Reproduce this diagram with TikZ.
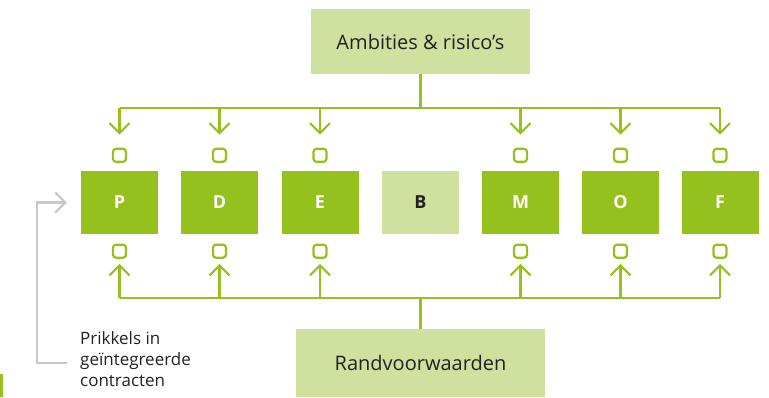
\documentclass[tikz,border=0pt]{standalone}
\usepackage{fontspec}
\setmainfont{Open Sans}
\usetikzlibrary{arrows.meta,positioning,calc}
\definecolor{planGreen}{RGB}{149,193,31}
\definecolor{planLight}{RGB}{208,224,158}
\definecolor{planText}{RGB}{34,34,34}
\definecolor{planGray}{RGB}{200,200,200}

\begin{document}
\begin{tikzpicture}[x=1pt, y=-1pt,
    phase/.style={fill=planGreen, minimum width=77pt, minimum height=63pt, inner sep=0pt, text=white, font=\bfseries\fontsize{18}{20}\selectfont},
    phaseB/.style={phase, fill=planLight, text=planText},
    frame/.style={fill=planLight, inner sep=0pt, text=planText, font=\fontsize{20}{24}\selectfont},
    port/.style={draw=planGreen, line width=2.2pt, rounded corners=3pt, minimum size=13pt, inner sep=0pt},
    link/.style={draw=planGreen, line width=2.2pt},
    feed/.style={link, -{Straight Barb[length=10pt, width=20pt, line width=2.2pt]}},
    back/.style={draw=planGray, line width=2.2pt, -{Straight Barb[length=10pt, width=20pt, line width=2.2pt]}}]
    \useasboundingbox (0,0) rectangle (769,397);

    \node[frame, minimum width=219pt, minimum height=65pt] (amb) at (420.5,41.5) {Ambities \& risico’s};
    \node[frame, minimum width=249pt, minimum height=68pt] (rand) at (420.5,363) {Randvoorwaarden};

    % Phases
    \node[phase] (p) at (119.5,202.5) {P};
    \node[phase] (d) at (219.5,202.5) {D};
    \node[phase] (e) at (320,202.5) {E};
    \node[phaseB] (b) at (420.5,202.5) {B};
    \node[phase] (m) at (520.5,202.5) {M};
    \node[phase] (o) at (620.5,202.5) {O};
    \node[phase] (f) at (720,202.5) {F};

    \coordinate (topbus) at (0,108);
    \coordinate (lowbus) at (0,298);
    \draw[link] (amb.south) -- (amb |- topbus);
    \draw[link] (rand.north) -- (rand |- lowbus);
    \draw[link] (p |- topbus) -- (f |- topbus);
    \draw[link] (p |- lowbus) -- (f |- lowbus);

    \foreach \x in {p,d,e,m,o,f} {
        \node[port] (\x t) at ($(\x.north)+(0,-15.5)$) {};
        \node[port] (\x b) at ($(\x.south)+(0,17)$) {};
        \draw[feed, shorten >=13pt] (\x |- topbus) -- (\x t.north);
        \draw[feed, shorten >=5pt] (\x |- lowbus) -- (\x b.south);
    }

    % Incentive loop
    \node[anchor=north west, align=left, inner sep=0pt, text=planText, font=\fontsize{17}{21}\selectfont] (prik) at (80,331) {Prikkels in\\geïntegreerde\\contracten};
    \coordinate (bstart) at (67,363);
    \draw[back] (bstart) -- ++(-30,0) |- ([xshift=-14pt]p.west);

    \fill[planGreen] (0,374) rectangle (3,397);
\end{tikzpicture}
\end{document}
